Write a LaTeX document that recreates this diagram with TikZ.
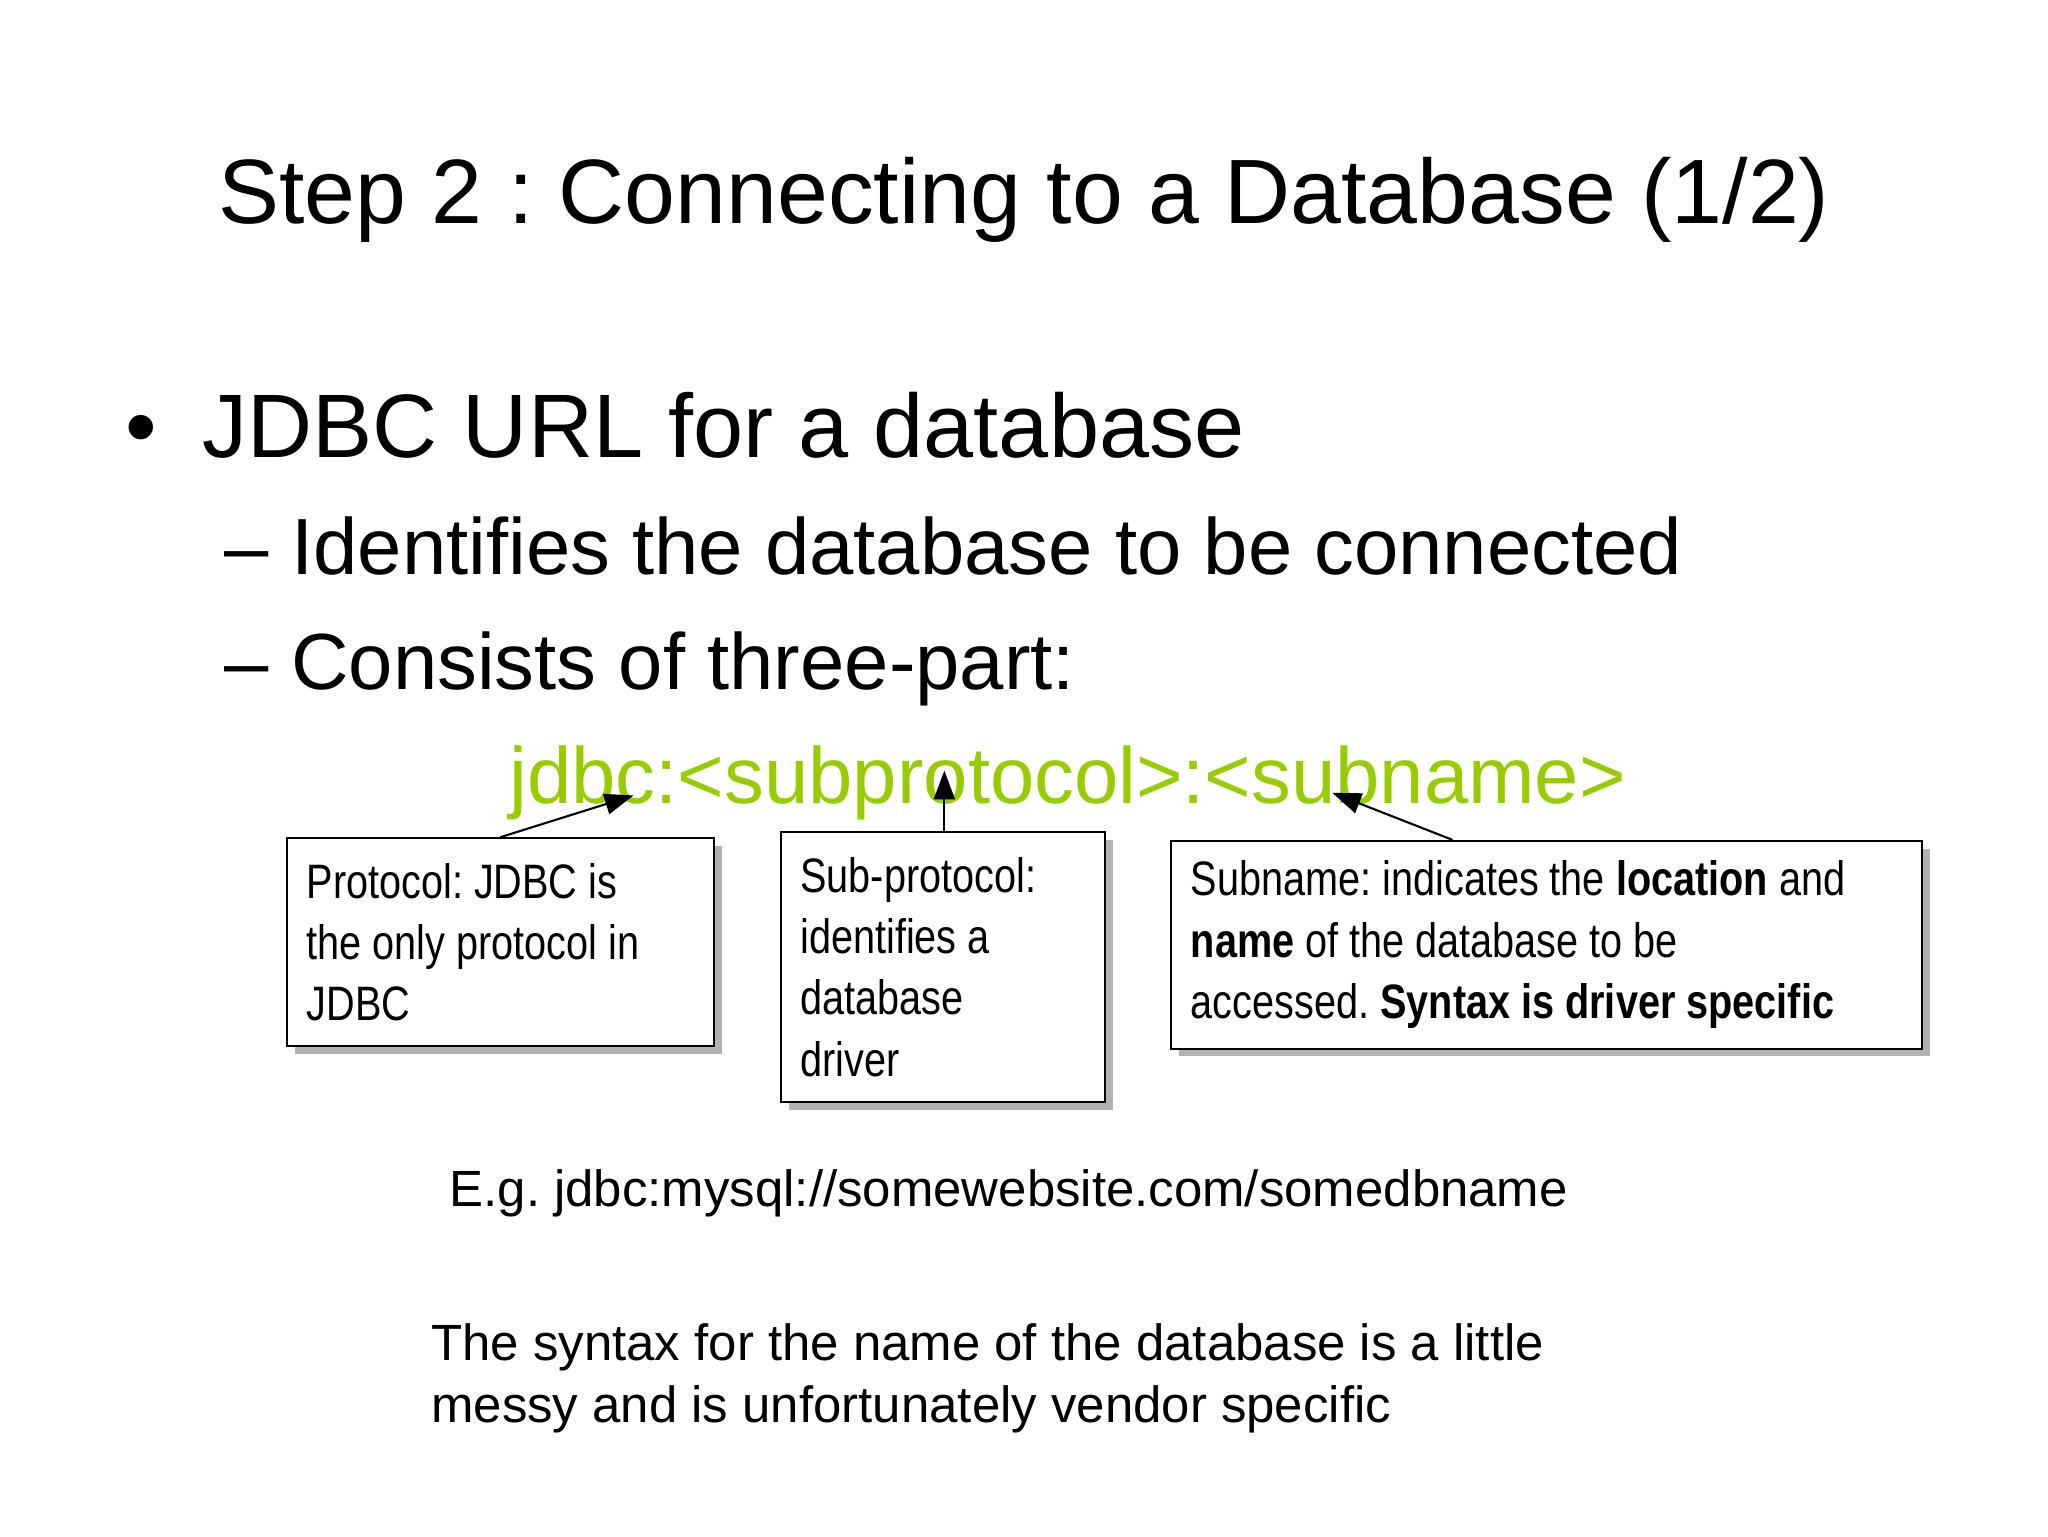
\documentclass[tikz,border=0pt]{standalone}
\usepackage{fontspec}
\setmainfont{Liberation Sans}
\newfontfamily\narrowfont[FakeStretch=0.82]{Liberation Sans}
\usetikzlibrary{arrows.meta,shadows}
\definecolor{urlgreen}{HTML}{99CC00}
\frenchspacing
\tikzset{
  txt/.style={anchor=base west,inner sep=0pt},
  callout/.style={draw=black,line width=1.6pt,fill=white,anchor=north west,align=flush left,
    inner xsep=15pt,inner ysep=6pt,font=\narrowfont\fontsize{37}{47}\selectfont,
    drop shadow={shadow xshift=6pt,shadow yshift=-6pt,fill=black!30,opacity=1}},
  pointer/.style={line width=1.6pt,-{Triangle[length=22pt,width=16pt]}}
}
\begin{document}
\begin{tikzpicture}[x=1pt,y=-1pt]
\fill[white] (0,0) rectangle (1568,1176);
\useasboundingbox (0,0) rectangle (1568,1176);
\node[anchor=base,inner sep=0pt,font=\fontsize{70}{80}\selectfont] (title) at (784,171) {Step 2 : Connecting to a Database (1/2)};
\node[txt,font=\fontsize{69}{80}\selectfont] (b1) at (96,350) {•};
\node[txt,font=\fontsize{69}{80}\selectfont] (b1t) at (155,350) {JDBC URL for a database};
\node[txt,font=\fontsize{61}{70}\selectfont] (s1) at (172,440) {– Identifies the database to be connected};
\node[txt,font=\fontsize{61}{70}\selectfont] (s2) at (172,528) {– Consists of three-part:};
\node[txt,font=\fontsize{61}{70}\selectfont,text=urlgreen] (url) at (390,615) {jdbc:<subprotocol>:<subname>};
\node[callout,text width=297pt,minimum height=159pt] (p1) at (219,641)
  {Protocol: JDBC is\\the only protocol in\\JDBC};
\node[callout,text width=218pt,minimum height=207pt] (p2) at (597,636)
  {Sub-protocol:\\identifies a\\database\\driver};
\node[callout,text width=545pt,minimum height=159pt] (p3) at (896,643)
  {Subname: indicates the \textbf{location} and\\\textbf{name} of the database to be\\accessed. \textbf{Syntax is driver specific}};
\coordinate (a1) at (485,609);
\coordinate (a2) at (723,590);
\coordinate (a3) at (1020,607);
\draw[pointer] (p1.north west) ++(164,0) -- (a1);
\draw[pointer] (p2.north west) ++(126,0) -- (a2);
\draw[pointer] (p3.north west) ++(216,0) -- (a3);
\node[txt,font=\fontsize{39}{46}\selectfont] (eg) at (344,924) {E.g. jdbc:mysql://somewebsite.com/somedbname};
\node[anchor=north west,inner sep=0pt,align=left,font=\fontsize{39}{48}\selectfont] (note) at (330,1013)
  {The syntax for the name of the database is a little\\messy and is unfortunately vendor specific};
\end{tikzpicture}
\end{document}
